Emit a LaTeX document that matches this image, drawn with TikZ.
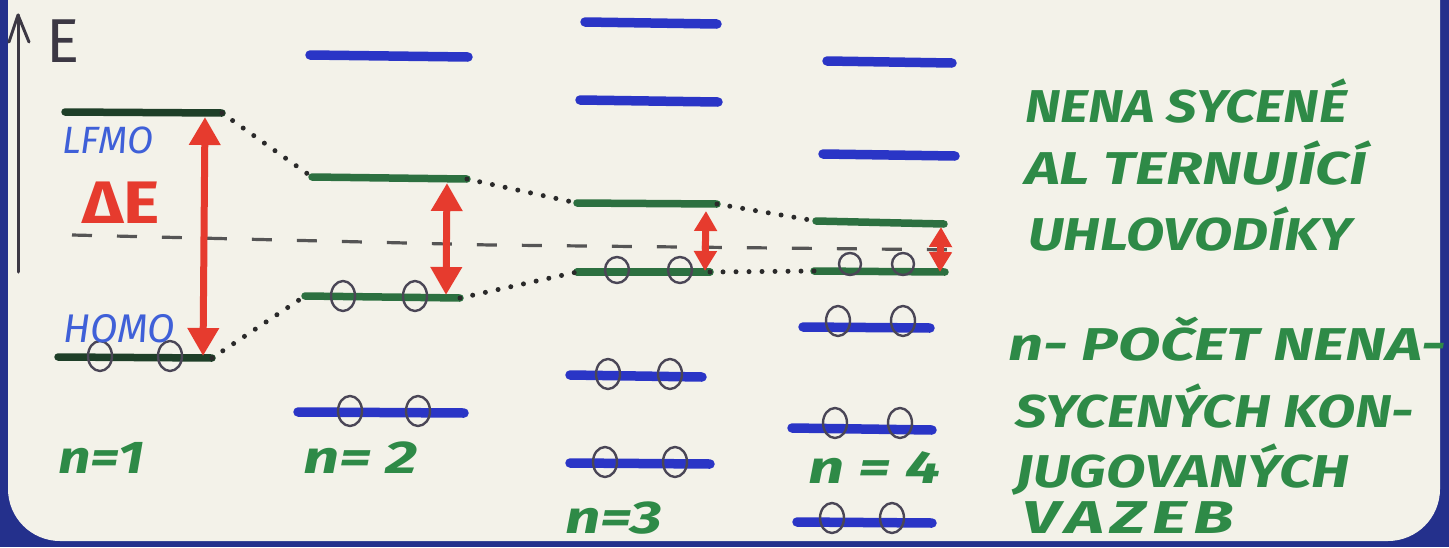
\documentclass[tikz,border=0pt]{standalone}
\usepackage{fontspec}
\usepackage{graphicx}
\setmainfont{Fira Sans}
\usetikzlibrary{arrows.meta}
\definecolor{cream}{HTML}{F3F2E9}
\definecolor{frameblue}{HTML}{24308C}
\definecolor{tgreen}{HTML}{2E8A47}
\definecolor{lgreen}{HTML}{2C7040}
\definecolor{lgreenD}{HTML}{1E3F28}
\definecolor{lblue}{HTML}{2A35C6}
\definecolor{redE}{HTML}{E63B2E}
\definecolor{elgray}{HTML}{4A4656}
\definecolor{dotk}{HTML}{2A2A2A}
\definecolor{lfblue}{HTML}{3F60D8}
\definecolor{egray}{HTML}{3C3844}
\newcommand\hndfont{\fontsize{46}{50}\selectfont\bfseries\itshape}
\newcommand\hsc[2]{\scalebox{#1}[1]{#2}}
\begin{document}
\begin{tikzpicture}[x=1pt,y=-1pt,
  lvlB/.style={draw=lblue,line width=9.5pt,line cap=round},
  lvlG/.style={draw=lgreen,line width=7.5pt,line cap=round},
  lvlK/.style={draw=lgreenD,line width=7.5pt,line cap=round},
  elec/.style={draw=elgray,line width=2.4pt},
  dotc/.style={draw=dotk,line width=5pt,line cap=round,dash pattern=on 0pt off 13pt},
  dashc/.style={draw=dotk!80,line width=3.2pt,dash pattern=on 20pt off 25pt},
  gapbig/.style={draw=redE,line width=7pt,{Triangle[width=30pt,length=28pt]}-{Triangle[width=30pt,length=28pt]}},
  gapsmall/.style={draw=redE,line width=7pt,{Triangle[width=22pt,length=20pt]}-{Triangle[width=22pt,length=20pt]}},
  hand/.style={text=tgreen,font=\hndfont,inner sep=0pt,anchor=base west},
  lbl/.style={text=lfblue,inner sep=0pt,anchor=base west},
  axisline/.style={draw=egray,line width=3pt,line cap=round,line join=round}]
\useasboundingbox (0,0) rectangle (1449,547);
\fill[frameblue] (0,0) rectangle (1449,547);
\fill[cream,rounded corners=52pt] (8,-60) rectangle (1440,541);

% energy axis
\coordinate (ax0) at (18,272);
\coordinate (ax1) at (18,15);
\coordinate (axl) at (9,42);
\coordinate (axr) at (29,42);
\draw[axisline] (ax0) -- (ax1);
\draw[axisline] (axl) -- (ax1) -- (axr);
\node[text=egray,inner sep=0pt,anchor=base west,font=\fontsize{62}{62}\selectfont] (tE) at (46,62) {E};

% dashed mid line
\coordinate (d0) at (72,235);
\coordinate (d1) at (490,245);
\coordinate (d2) at (967,250);
\draw[dashc] (d0) -- (d1) -- (d2);

% ---- n = 1
\coordinate (u1a) at (65,112);  \coordinate (u1b) at (222,113);
\coordinate (h1a) at (58,357);  \coordinate (h1b) at (212,358);
\draw[lvlK] (u1a) -- (u1b);
\draw[lvlK] (h1a) -- (h1b);
\foreach \x in {100,170} \draw[elec] (\x,356) ellipse [x radius=12,y radius=15];
\coordinate (a1t) at (205,117); \coordinate (a1b) at (203,356);
\draw[gapbig] (a1t) -- (a1b);

% ---- n = 2
\coordinate (b2a) at (310,55);  \coordinate (b2b) at (468,57);
\coordinate (u2a) at (312,177); \coordinate (u2b) at (467,179);
\coordinate (h2a) at (305,296); \coordinate (h2b) at (460,298);
\coordinate (l2a) at (298,412); \coordinate (l2b) at (464,413);
\draw[lvlB] (b2a) -- (b2b);
\draw[lvlG] (u2a) -- (u2b);
\draw[lvlG] (h2a) -- (h2b);
\draw[lvlB] (l2a) -- (l2b);
\foreach \x in {343,415} \draw[elec] (\x,296) ellipse [x radius=12,y radius=15];
\foreach \x in {350,418} \draw[elec] (\x,411) ellipse [x radius=12,y radius=15];
\coordinate (a2t) at (447,183); \coordinate (a2b) at (446,295);
\draw[gapbig] (a2t) -- (a2b);

% ---- n = 3
\coordinate (b3a) at (585,22);  \coordinate (b3b) at (717,24);
\coordinate (c3a) at (580,100); \coordinate (c3b) at (718,102);
\coordinate (u3a) at (577,203); \coordinate (u3b) at (717,204);
\coordinate (h3a) at (577,272); \coordinate (h3b) at (710,272);
\coordinate (l3a) at (570,375); \coordinate (l3b) at (702,377);
\coordinate (m3a) at (570,463); \coordinate (m3b) at (710,464);
\draw[lvlB] (b3a) -- (b3b);
\draw[lvlB] (c3a) -- (c3b);
\draw[lvlG] (u3a) -- (u3b);
\draw[lvlG] (h3a) -- (h3b);
\draw[lvlB] (l3a) -- (l3b);
\draw[lvlB] (m3a) -- (m3b);
\foreach \x in {617,680} \draw[elec] (\x,270) ellipse [x radius=12,y radius=13];
\foreach \x in {608,670} \draw[elec] (\x,374) ellipse [x radius=12,y radius=15];
\foreach \x in {605,675} \draw[elec] (\x,462) ellipse [x radius=12,y radius=15];
\coordinate (a3t) at (706,211); \coordinate (a3b) at (705,271);
\draw[gapsmall] (a3t) -- (a3b);

% ---- n = 4
\coordinate (b4a) at (827,61);  \coordinate (b4b) at (952,63);
\coordinate (c4a) at (823,154); \coordinate (c4b) at (955,156);
\coordinate (u4a) at (816,221); \coordinate (u4b) at (944,224);
\coordinate (h4a) at (814,271); \coordinate (h4b) at (945,272);
\coordinate (l4a) at (803,327); \coordinate (l4b) at (930,328);
\coordinate (m4a) at (792,428); \coordinate (m4b) at (932,430);
\coordinate (n4a) at (797,522); \coordinate (n4b) at (932,523);
\draw[lvlB] (b4a) -- (b4b);
\draw[lvlB] (c4a) -- (c4b);
\draw[lvlG] (u4a) -- (u4b);
\draw[lvlG] (h4a) -- (h4b);
\draw[lvlB] (l4a) -- (l4b);
\draw[lvlB] (m4a) -- (m4b);
\draw[lvlB] (n4a) -- (n4b);
\foreach \x in {850,903} \draw[elec] (\x,264) ellipse [x radius=11,y radius=11];
\foreach \x in {838,903} \draw[elec] (\x,321) ellipse [x radius=12,y radius=15];
\foreach \x in {835,900} \draw[elec] (\x,423) ellipse [x radius=12,y radius=15];
\foreach \x in {832,892} \draw[elec] (\x,518) ellipse [x radius=12,y radius=15];
\coordinate (a4t) at (941,227); \coordinate (a4b) at (940,272);
\draw[gapsmall] (a4t) -- (a4b);

% ---- dotted correlation lines
\draw[dotc] (u1b) -- (u2a);
\draw[dotc] (h1b) -- (h2a);
\draw[dotc] (u2b) -- (u3a);
\draw[dotc] (h2b) -- (h3a);
\draw[dotc] (u3b) -- (u4a);
\draw[dotc] (h3b) -- (h4a);

% ---- left labels
\node[lbl,font=\fontsize{38}{40}\selectfont\itshape] (tlf) at (62,153) {LFMO};
\node[lbl,font=\fontsize{40}{44}\selectfont\itshape] (tho) at (63,342) {HOMO};
\node[text=redE,inner sep=0pt,anchor=base west,font=\fontsize{60}{60}\selectfont\bfseries] (tde) at (82,223) {\hsc{1.15}{ΔE}};

% ---- n labels
\node[hand] (tn1) at (58,473) {\hsc{1.24}{n=1}};
\node[hand] (tn2) at (303,473) {\hsc{1.38}{n= 2}};
\node[hand] (tn3) at (565,533) {\hsc{1.35}{n=3}};
\node[hand] (tn4) at (808,483) {\hsc{1.38}{n = 4}};

% ---- right texts
\node[hand] (r1) at (1025,122) {\hsc{1.17}{NENA SYCENÉ}};
\node[hand] (r2) at (1025,184) {\hsc{1.3}{AL TERNUJÍCÍ}};
\node[hand] (r3) at (1028,250) {\hsc{1.21}{UHLOVODÍKY}};
\node[hand] (r4) at (1008,360) {\hsc{1.34}{n- POČET NENA-}};
\node[hand] (r5) at (1015,427) {\hsc{1.21}{SYCENÝCH KON-}};
\node[hand] (r6) at (1015,487) {\hsc{1.25}{JUGOVANÝCH}};
\node[hand] (r7) at (1022,533) {\hsc{1.45}{\addfontfeature{LetterSpace=10}VAZEB}};
\end{tikzpicture}
\end{document}
